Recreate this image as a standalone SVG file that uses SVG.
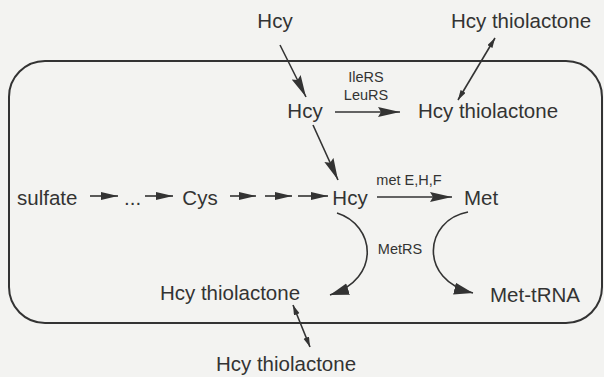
<svg xmlns="http://www.w3.org/2000/svg" width="604" height="377" viewBox="0 0 604 377">
<style>
.t{font-family:"Liberation Sans",Arial,sans-serif;fill:#333;font-size:20.5px}
.s{font-family:"Liberation Sans",Arial,sans-serif;fill:#333;font-size:14.5px}
.c{fill:none;stroke:#333;stroke-width:1.6}
</style>
<defs>
<marker id="big" markerUnits="userSpaceOnUse" markerWidth="24" markerHeight="12" refX="22" refY="5" orient="auto"><path d="M0,0 L22,5 L0,10 L3,5 z" fill="#333"/></marker>
<marker id="cur" markerUnits="userSpaceOnUse" markerWidth="22" markerHeight="14" refX="19" refY="6" orient="auto"><path d="M0,0 L19,6 L0,12 z" fill="#333"/></marker>
<marker id="mid" markerUnits="userSpaceOnUse" markerWidth="19" markerHeight="10" refX="17" refY="4" orient="auto"><path d="M0,0 L17,4 L0,8 z" fill="#333"/></marker>
<marker id="sm" markerUnits="userSpaceOnUse" markerWidth="12" markerHeight="8" refX="10" refY="3" orient="auto-start-reverse"><path d="M0,0 L10,3 L0,6 z" fill="#333"/></marker>
</defs>
<rect width="604" height="377" fill="#f3f3f1"/>
<rect id="cell" x="9" y="61" width="593" height="262" rx="36" ry="36" fill="none" stroke="#333" stroke-width="2"/>
<g id="hcy_out"><text class="t" x="275" y="28" text-anchor="middle">Hcy</text></g>
<g id="hcytl_out_top"><text class="t" x="521" y="28" text-anchor="middle">Hcy thiolactone</text></g>
<g id="hcy_in"><text class="t" x="305" y="118" text-anchor="middle">Hcy</text></g>
<g id="hcytl_in_top"><text class="t" x="488" y="118" text-anchor="middle">Hcy thiolactone</text></g>
<g id="sulfate"><text class="t" x="17" y="205">sulfate</text></g>
<g id="dots"><text class="t" x="124" y="205">...</text></g>
<g id="cys"><text class="t" x="200" y="205" text-anchor="middle">Cys</text></g>
<g id="hcy_main"><text class="t" x="350" y="205" text-anchor="middle">Hcy</text></g>
<g id="met"><text class="t" x="481" y="205" text-anchor="middle">Met</text></g>
<g id="hcytl_in_bot"><text class="t" x="230" y="300" text-anchor="middle">Hcy thiolactone</text></g>
<g id="mettrna"><text class="t" x="535" y="302" text-anchor="middle">Met-tRNA</text></g>
<g id="hcytl_out_bot"><text class="t" x="286" y="371" text-anchor="middle">Hcy thiolactone</text></g>
<g id="connectors">
<line class="c" x1="280" y1="45" x2="306" y2="97" marker-end="url(#big)"/>
<line class="c" x1="313" y1="125" x2="338" y2="180" marker-end="url(#big)"/>
<line class="c" x1="335" y1="112" x2="400" y2="112" marker-end="url(#big)"/>
<line class="c" x1="495" y1="38" x2="458" y2="100" marker-start="url(#sm)" marker-end="url(#sm)"/>
<line class="c" x1="293" y1="305" x2="310" y2="347" marker-start="url(#sm)" marker-end="url(#sm)"/>
<line class="c" x1="90" y1="196" x2="118" y2="196" marker-end="url(#mid)"/>
<line class="c" x1="145" y1="196" x2="173" y2="196" marker-end="url(#mid)"/>
<line class="c" x1="230" y1="196" x2="256" y2="196" marker-end="url(#mid)"/>
<line class="c" x1="265" y1="196" x2="292" y2="196" marker-end="url(#mid)"/>
<line class="c" x1="298" y1="196" x2="328" y2="196" marker-end="url(#mid)"/>
<line class="c" x1="377" y1="197" x2="452" y2="197" marker-end="url(#big)"/>
<path class="c" d="M337,213 C375,225 382,278 330,295" marker-end="url(#cur)"/>
<path class="c" d="M468,212 C424,220 418,280 473,293" marker-end="url(#cur)"/>
<text class="s" x="366" y="82" text-anchor="middle">IleRS</text>
<text class="s" x="366" y="100" text-anchor="middle">LeuRS</text>
<text class="s" x="409" y="185" text-anchor="middle">met E,H,F</text>
<text class="s" x="400" y="254" text-anchor="middle">MetRS</text>
</g>
</svg>
